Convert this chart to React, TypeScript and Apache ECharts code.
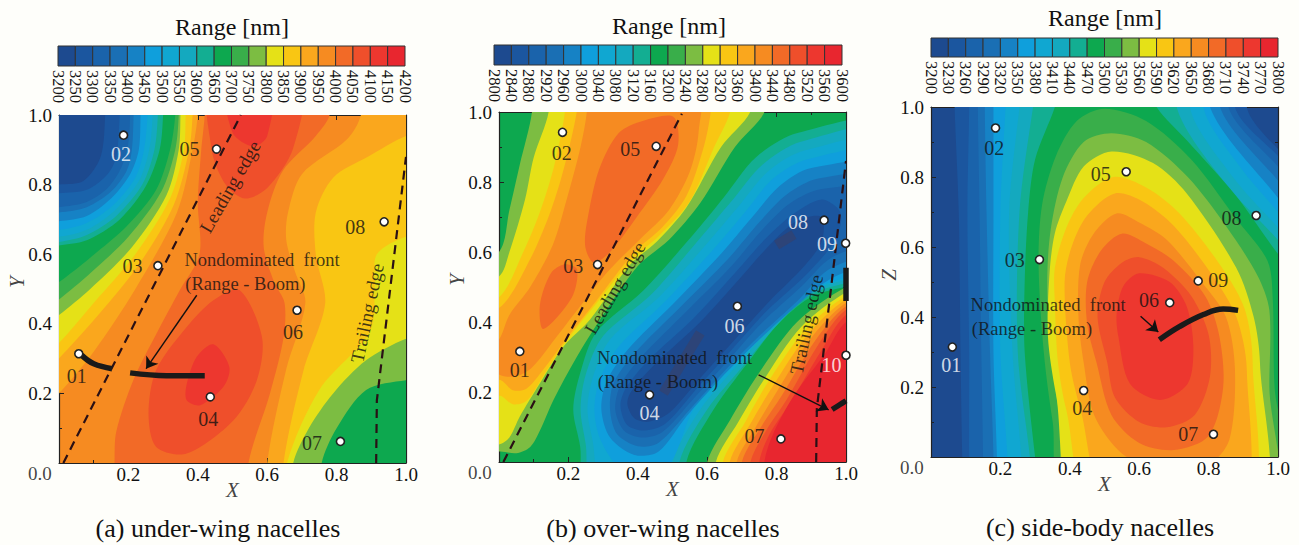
import React, { useEffect, useRef } from "react";
import * as echarts from "echarts";

type Pt = number[];
type Region = [number, Pt[]];
type Txt = [string, number, number, string, number?, number?];

const bandColors = ["#1d4a8f","#1b569f","#1a63ab","#1a6fb4","#1682c5","#0f9fdc","#10a7d1","#14a9bf","#13ae92","#0da84f","#39ae4a","#7cbd42","#e5e117","#f9c613","#faa71d","#f68b21","#f26a27","#ef4f2b","#ed372f","#e8262f"];

const ticksA = ["3200","3250","3300","3350","3400","3450","3500","3550","3600","3650","3700","3750","3800","3850","3900","3950","4000","4050","4100","4150","4200"];
const ticksB = ["2800","2840","2880","2920","2960","3000","3040","3080","3120","3160","3200","3240","3280","3320","3360","3400","3440","3480","3520","3560","3600"];
const ticksC = ["3200","3230","3260","3290","3320","3350","3380","3410","3440","3470","3500","3530","3560","3590","3620","3650","3680","3710","3740","3770","3800"];

const regionsA: Region[] = [
  [14,[[.6,-.15],[.6,0],[.655,.27],[.71,.46],[.68,.55],[.655,.64],[.66,.72],[.70,.83],[.83,.93],[.87,1],[.88,1.15],[1.15,1.15],[1.15,-.15]]],
  [13,[[.647,-.15],[.647,0],[.705,.267],[.767,.458],[.74,.60],[.74,.72],[.79,.82],[.89,.88],[1,.94],[1.15,.98],[1.15,-.15]]],
  [12,[[.65,-.15],[.657,0],[.75,.21],[.897,.38],[.91,.515],[.916,.60],[1,.65],[1.15,.68],[1.15,-.15]]],
  [11,[[.66,-.15],[.675,0],[.72,.1],[.79,.2],[.885,.295],[1,.357],[1.15,.40],[1.15,-.15]]],
  [9,[[.745,-.15],[.757,0],[.80,.10],[.885,.21],[1,.238],[1.15,.25],[1.15,-.15]]],
  [14,[[-.15,.05],[0,.2],[.1,.32],[.22,.50],[.34,.72],[.385,.9],[.40,1],[.41,1.15],[-.15,1.15]]],
  [13,[[-.15,.14],[0,.30],[.1,.41],[.23,.57],[.33,.74],[.375,.9],[.385,1],[.39,1.15],[-.15,1.15]]],
  [12,[[-.15,.2],[0,.345],[.1,.46],[.22,.60],[.32,.76],[.36,.9],[.365,1],[.37,1.15],[-.15,1.15]]],
  [11,[[-.15,.31],[0,.425],[.09,.50],[.21,.62],[.31,.77],[.345,.9],[.35,1],[.352,1.15],[-.15,1.15]]],
  [10,[[-.15,.36],[0,.47],[.09,.545],[.2,.65],[.295,.78],[.335,.9],[.345,1],[.347,1.15],[-.15,1.15]]],
  [9,[[-.15,.42],[0,.52],[.09,.59],[.195,.68],[.28,.785],[.32,.9],[.335,1],[.34,1.15],[-.15,1.15]]],
  [8,[[-.15,.60],[0,.625],[.08,.64],[.175,.70],[.25,.795],[.29,.9],[.30,1],[.305,1.15],[-.15,1.15]]],
  [7,[[-.15,.62],[0,.635],[.08,.655],[.165,.71],[.24,.80],[.275,.9],[.285,1],[.29,1.15],[-.15,1.15]]],
  [6,[[-.15,.64],[0,.65],[.08,.67],[.16,.725],[.23,.81],[.26,.9],[.27,1],[.275,1.15],[-.15,1.15]]],
  [5,[[-.15,.66],[0,.67],[.08,.69],[.155,.74],[.22,.82],[.245,.9],[.255,1],[.26,1.15],[-.15,1.15]]],
  [4,[[-.15,.685],[0,.695],[.08,.71],[.15,.76],[.205,.83],[.23,.9],[.235,1],[.24,1.15],[-.15,1.15]]],
  [3,[[-.15,.71],[0,.72],[.08,.735],[.15,.78],[.195,.84],[.21,.9],[.215,1],[.22,1.15],[-.15,1.15]]],
  [2,[[-.15,.72],[0,.735],[.08,.75],[.14,.79],[.18,.85],[.2,.92],[.205,1],[.21,1.15],[-.15,1.15]]],
  [1,[[-.15,.76],[0,.775],[.08,.785],[.14,.83],[.165,.88],[.175,1],[.18,1.15],[-.15,1.15]]],
  [0,[[-.15,.79],[0,.80],[.07,.81],[.12,.88],[.133,1],[.135,1.15],[-.15,1.15]]],
  [16,[[.155,-.15],[.16,0],[.165,.09],[.215,.24],[.28,.37],[.35,.50],[.405,.60],[.40,.75],[.41,.9],[.42,1],[.425,1.15],[.80,1.15],[.78,1],[.74,.94],[.645,.84],[.60,.72],[.59,.62],[.62,.52],[.65,.46],[.647,.36],[.608,.2],[.546,0],[.54,-.15]]],
  [17,[[.52,.497],[.585,.362],[.57,.237],[.503,.123],[.368,.027],[.28,.046],[.258,.142],[.28,.267],[.368,.391],[.445,.468]]],
  [17,[[.44,1.1],[.44,.9],[.48,.80],[.535,.76],[.60,.79],[.675,.905],[.695,1.1]]],
  [18,[[.483,1.1],[.50,.95],[.56,.91],[.60,.94],[.613,1.1]]],
  [18,[[.445,.341],[.491,.276],[.474,.219],[.407,.166],[.368,.18],[.368,.226],[.397,.305]]],
];

const regionsB: Region[] = [
  [11,[[.1,1.15],[.095,1],[.06,.85],[.03,.72],[0,.60],[-.15,.5],[-.15,.0],[.0,.03],[.05,.025],[.09,.043],[.118,.09],[.157,.177],[.224,.30],[.29,.405],[.40,.56],[.49,.635],[.58,.74],[.68,.90],[.765,1],[.8,1.15]]],
  [12,[[.15,1.15],[.143,1],[.10,.87],[.075,.75],[.03,.6],[0,.53],[-.15,.45],[-.15,.03],[0,.05],[.03,.07],[.06,.13],[.118,.225],[.186,.33],[.2625,.407],[.378,.564],[.455,.63],[.54,.727],[.64,.90],[.724,1],[.76,1.15]]],
  [13,[[.2,1.15],[.19,1],[.16,.85],[.12,.72],[.07,.6],[0,.47],[-.15,.4],[-.15,.17],[0,.19],[.04,.165],[.08,.175],[.13,.25],[.19,.34],[.27,.44],[.385,.58],[.46,.645],[.55,.745],[.62,.90],[.666,1],[.69,1.15]]],
  [14,[[.24,1.15],[.224,1],[.19,.85],[.15,.72],[.09,.58],[0,.44],[-.15,.4],[-.15,.2],[0,.235],[.04,.205],[.08,.21],[.14,.28],[.20,.36],[.28,.46],[.39,.60],[.47,.67],[.54,.76],[.59,.90],[.61,1],[.62,1.15]]],
  [15,[[.26,1.15],[.253,1],[.235,.9],[.195,.75],[.155,.62],[.09,.50],[.03,.42],[0,.35],[-.05,.31],[0,.25],[.05,.245],[.095,.27],[.16,.35],[.23,.44],[.31,.54],[.41,.64],[.49,.72],[.55,.83],[.575,.94],[.575,1.15]]],
  [16,[[.416,.975],[.345,.94],[.29,.84],[.26,.72],[.248,.62],[.272,.57],[.32,.60],[.397,.70],[.474,.81],[.516,.905],[.503,.986]]],
  [16,[[.128,.38],[.118,.45],[.15,.54],[.19,.565],[.225,.55],[.21,.47]]],
  [8,[[1.15,.97],[.86,.94],[.74,.87],[.647,.755],[.56,.65],[.416,.49],[.28,.37],[.234,.254],[.214,.149],[.234,.043],[.253,-.15],[.54,-.15],[.54,0],[.618,.149],[.714,.28],[.81,.40],[.907,.475],[1.15,.56]]],
  [7,[[1.15,.95],[.87,.915],[.76,.85],[.67,.745],[.58,.64],[.44,.48],[.30,.36],[.25,.25],[.235,.15],[.25,.05],[.275,-.15],[.52,-.15],[.52,0],[.60,.15],[.70,.27],[.80,.39],[.90,.48],[1.15,.575]]],
  [6,[[1.15,.92],[.88,.89],[.775,.83],[.69,.73],[.60,.625],[.46,.47],[.32,.35],[.27,.24],[.255,.15],[.27,.06],[.31,-.15],[.50,-.15],[.50,0],[.58,.15],[.68,.27],[.78,.38],[.89,.485],[1.15,.585]]],
  [5,[[1.15,.89],[.89,.865],[.79,.81],[.71,.715],[.62,.61],[.48,.46],[.345,.33],[.29,.235],[.275,.15],[.29,.07],[.34,-.01],[.41,-.04],[.49,-.01],[.56,.15],[.66,.27],[.76,.37],[.87,.48],[1.15,.6]]],
  [4,[[1.15,.85],[.90,.84],[.81,.79],[.73,.70],[.64,.595],[.50,.45],[.37,.32],[.31,.23],[.295,.15],[.32,.07],[.39,.02],[.46,.03],[.54,.13],[.64,.24],[.74,.34],[.85,.44],[.95,.52],[1.15,.62]]],
  [3,[[1.15,.82],[.92,.81],[.83,.765],[.75,.685],[.66,.58],[.52,.44],[.39,.31],[.33,.225],[.32,.15],[.34,.08],[.40,.045],[.46,.055],[.55,.15],[.65,.26],[.75,.36],[.86,.46],[.95,.55],[1.15,.64]]],
  [2,[[1.15,.78],[.93,.78],[.84,.74],[.76,.665],[.67,.56],[.54,.43],[.41,.30],[.35,.22],[.335,.15],[.36,.09],[.41,.07],[.47,.085],[.56,.18],[.66,.29],[.76,.40],[.87,.50],[.96,.585],[1.15,.66]]],
  [1,[[.98,.72],[.93,.75],[.85,.71],[.77,.64],[.68,.54],[.56,.41],[.43,.29],[.365,.21],[.35,.16],[.37,.105],[.42,.09],[.48,.11],[.57,.21],[.67,.32],[.77,.43],[.88,.53],[.96,.62],[.985,.68]]],
  [0,[[.93,.70],[.86,.69],[.78,.62],[.69,.52],[.58,.40],[.45,.28],[.38,.20],[.37,.165],[.39,.125],[.43,.115],[.49,.14],[.58,.24],[.68,.35],[.78,.46],[.88,.56],[.93,.63]]],
  [11,[[.59,-.15],[.60,0],[.666,.12],[.743,.245],[.859,.40],[1,.50],[1.15,.56],[1.15,-.15]]],
  [12,[[.62,-.15],[.625,0],[.69,.115],[.76,.23],[.87,.385],[1,.485],[1.15,.55],[1.15,-.15]]],
  [13,[[.64,-.15],[.645,0],[.71,.115],[.77,.22],[.88,.375],[1,.475],[1.15,.54],[1.15,-.15]]],
  [14,[[.66,-.15],[.665,0],[.725,.11],[.785,.21],[.89,.365],[1,.465],[1.15,.53],[1.15,-.15]]],
  [15,[[.68,-.15],[.685,0],[.74,.10],[.80,.20],[.90,.355],[1,.455],[1.15,.52],[1.15,-.15]]],
  [16,[[.695,-.15],[.70,0],[.755,.10],[.815,.19],[.91,.345],[1,.445],[1.15,.51],[1.15,-.15]]],
  [17,[[.72,-.15],[.725,0],[.77,.09],[.83,.18],[.92,.335],[1,.435],[1.15,.5],[1.15,-.15]]],
  [18,[[.745,-.15],[.75,0],[.78,.08],[.84,.17],[.93,.32],[1,.42],[1.15,.49],[1.15,-.15]]],
  [19,[[.76,-.15],[.765,0],[.79,.08],[.85,.19],[.94,.31],[1,.40],[1.15,.47],[1.15,-.15]]],
];

const regionsC: Region[] = [
  [1,[[.095,-.15],[.09,0],[.085,.3],[.08,.7],[.068,1],[.066,1.15],[.95,1.15],[.91,1],[1,.88],[1.15,.75],[1.15,-.15]]],
  [2,[[.115,-.15],[.11,0],[.11,.3],[.105,.7],[.11,1],[.11,1.15],[.92,1.15],[.876,1],[1,.86],[1.15,.71],[1.15,-.15]]],
  [3,[[.15,-.15],[.15,0],[.145,.3],[.14,.7],[.135,1],[.135,1.15],[.9,1.15],[.857,1],[1,.83],[1.15,.67],[1.15,-.15]]],
  [4,[[.18,-.15],[.18,0],[.17,.3],[.16,.7],[.155,1],[.155,1.15],[.88,1.15],[.833,1],[1,.79],[1.15,.62],[1.15,-.15]]],
  [5,[[.19,-.15],[.19,0],[.18,.3],[.18,.7],[.18,1],[.18,1.15],[.85,1.15],[.804,1],[1,.74],[1.15,.55],[1.15,-.15]]],
  [6,[[.22,-.15],[.22,0],[.20,.3],[.20,.7],[.215,1],[.225,1.15],[.83,1.15],[.785,1],[.89,.83],[1,.70],[1.15,.52],[1.15,-.15]]],
  [7,[[.265,-.15],[.26,0],[.235,.3],[.225,.7],[.255,1],[.275,1.15],[.8,1.15],[.746,1],[.87,.80],[1,.655],[1.15,.48],[1.15,-.15]]],
  [8,[[.295,-.15],[.285,0],[.25,.3],[.255,.7],[.294,1],[.32,1.15],[.75,1.15],[.708,1],[.85,.78],[1,.62],[1.15,.44],[1.15,-.15]]],
  [9,[[.32,-.15],[.30,0],[.27,.3],[.27,.5],[.28,.7],[.30,.85],[.357,1],[.40,1.15],[.58,1.15],[.65,1],[.737,.905],[.88,.745],[1,.58],[1.15,.40],[1.15,-.15]]],
  [10,[[.395,-.15],[.35,.105],[.325,.3],[.31,.55],[.32,.72],[.36,.86],[.42,.96],[.50,.995],[.62,.96],[.75,.85],[.88,.68],[.97,.56],[.985,.45],[.99,.2],[1.02,-.15]]],
  [11,[[.41,-.15],[.37,.12],[.345,.3],[.335,.5],[.345,.65],[.38,.80],[.44,.90],[.52,.925],[.62,.90],[.74,.80],[.85,.66],[.94,.52],[.975,.42],[.975,.2],[.98,-.15]]],
  [12,[[.43,-.15],[.36,.18],[.337,.344],[.342,.53],[.357,.64],[.39,.73],[.44,.83],[.52,.873],[.64,.84],[.737,.753],[.88,.54],[.93,.40],[.948,.27],[.945,-.15]]],
  [13,[[.47,-.15],[.39,.134],[.366,.27],[.357,.44],[.357,.54],[.39,.655],[.44,.74],[.525,.80],[.62,.77],[.717,.695],[.842,.536],[.905,.42],[.927,.27],[.91,-.15]]],
  [14,[[.52,-.15],[.43,.14],[.40,.27],[.385,.50],[.405,.60],[.45,.69],[.53,.753],[.61,.73],[.70,.66],[.81,.52],[.88,.40],[.91,.25],[.89,-.15]]],
  [15,[[.47,.12],[.44,.27],[.425,.40],[.43,.55],[.47,.64],[.535,.696],[.60,.67],[.68,.62],[.78,.50],[.85,.40],[.876,.25],[.86,.05],[.80,-.02],[.65,-.03],[.55,.01]]],
  [16,[[.52,.12],[.477,.27],[.45,.38],[.45,.50],[.49,.59],[.55,.638],[.62,.61],[.70,.56],[.79,.46],[.83,.35],[.842,.2],[.80,.06],[.70,.02],[.60,.04]]],
  [17,[[.53,.17],[.508,.27],[.48,.40],[.50,.50],[.55,.555],[.60,.571],[.67,.54],[.75,.46],[.80,.35],[.804,.23],[.76,.12],[.68,.085],[.60,.10]]],
  [18,[[.54,.344],[.573,.21],[.66,.163],[.74,.21],[.756,.316],[.737,.43],[.688,.50],[.60,.525],[.554,.488],[.535,.41]]],
];

const pointsA: Pt[] = [[.057,.314],[.186,.942],[.285,.567],[.436,.19],[.454,.902],[.686,.439],[.811,.062],[.937,.693]];
const pointsB: Pt[] = [[.06,.316],[.183,.942],[.284,.564],[.434,.192],[.453,.902],[.687,.445],[.8125,.066],[.937,.691],[.999,.625],[1,.305]];
const pointsC: Pt[] = [[.0615,.314],[.186,.94],[.3125,.564],[.44,.19],[.5625,.815],[.688,.441],[.814,.065],[.937,.69],[.77,.503]];

const INK = "#111";
const textA: Txt[] = [
  ["0.0",-.055,-.029,INK,19],["X",.5,-.078,INK,21],["Y",-.12,.52,INK,21,90],
  ["01",.051,.249,INK],["02",.179,.888,"#fff"],["03",.212,.566,INK],["04",.43,.127,INK],["05",.376,.901,INK],["06",.674,.377,INK],["07",.729,.058,INK],["08",.854,.679,INK],
  ["Nondominated  front",.585,.583,INK,18.5],["(Range - Boom)",.537,.514,INK,18.5],["Leading edge",.493,.794,INK,19,60],["Trailing edge",.888,.431,INK,19,78],
];
const textB: Txt[] = [
  ["0.0",-.055,-.029,INK,19],["X",.5,-.078,INK,21],["Y",-.12,.52,INK,21,90],
  ["01",.06,.264,INK],["02",.181,.882,INK],["03",.214,.559,INK],["04",.434,.141,"#fff"],["05",.378,.895,INK],["06",.679,.39,"#fff"],["07",.736,.074,INK],["08",.862,.686,"#fff"],["09",.945,.623,"#fff"],["10",.958,.278,"#fff"],
  ["Nondominated  front",.506,.297,INK,18.5],["(Range - Boom)",.458,.23,INK,18.5],["Leading edge",.334,.497,INK,19,60],["Trailing edge",.886,.393,INK,19,78],
];
const textC: Txt[] = [
  ["0.0",-.055,-.029,INK,19],["X",.5,-.078,INK,21],["Z",-.12,.52,INK,21,90],
  ["01",.0587,.263,"#fff"],["02",.182,.884,INK],["03",.241,.564,INK],["04",.436,.141,INK],["05",.489,.809,INK],["06",.628,.448,INK],["07",.741,.067,INK],["08",.866,.684,INK],["09",.828,.505,INK],
  ["Nondominated  front",.3375,.435,INK,18.5],["(Range - Boom)",.291,.366,INK,18.5],
];

const dashedA: Pt[][] = [[[.0125,0],[.524,1]],[[.914,0],[.916,.18],[1,.88]]];
const dashedB: Pt[][] = [[[.0125,0],[.527,.995]],[[.914,0],[.916,.153],[1,.86]]];
const dashedC: Pt[][] = [];
const frontsA: Pt[][] = [[[.065,.31],[.10,.285],[.153,.271]],[[.205,.259],[.31,.251],[.42,.251]]];
const frontsB: Pt[][] = [[[.96,.15],[.984,.165],[1,.175]],[[1,.555],[1,.46]]];
const frontsC: Pt[][] = [[[.658,.335],[.717,.373],[.785,.407],[.842,.423],[.885,.419]]];
const faintB: Pt[][] = [[[.474,.197],[.58,.369]],[[.80,.62],[.85,.65]]];
const faintNone: Pt[][] = [];
const arrowA: Pt[] = [.397,.482,.251,.271];
const arrowB: Pt[] = [.748,.249,.95,.149];
const arrowC: Pt[] = [.604,.402,.655,.357];

const titleText = "Range [nm]";
const captions = ["(a) under-wing nacelles","(b) over-wing nacelles","(c) side-body nacelles"];

const SERIF = "Liberation Serif";
const panels = [
  { grid:[59,115,347,348], bar:[58,46,347,20], base:15, regions:regionsA, points:pointsA, text:textA, dashed:dashedA, fronts:frontsA, faint:faintNone, arrow:arrowA, ticks:ticksA, title:[232,27], cap:[218,528] },
  { grid:[499,112,347,350], bar:[494,45,348,20], base:9, regions:regionsB, points:pointsB, text:textB, dashed:dashedB, fronts:frontsB, faint:faintB, arrow:arrowB, ticks:ticksB, title:[669,26], cap:[663,528] },
  { grid:[931,107,347,350], bar:[931,38,347,19], base:0, regions:regionsC, points:pointsC, text:textC, dashed:dashedC, fronts:frontsC, faint:faintNone, arrow:arrowC, ticks:ticksC, title:[1105,18], cap:[1100,527] },
];

function buildOption() {
  const grid: any[] = [], xAxis: any[] = [], yAxis: any[] = [], series: any[] = [], graphic: any[] = [];
  const fmt = (v: number) => (v === 0 ? "" : v.toFixed(1));
  const line = { show: true, onZero: false, lineStyle: { color: "#222", width: 1.2 } };
  panels.forEach((p, i) => {
    const g = grid.length;
    grid.push({ left:p.grid[0], top:p.grid[1], width:p.grid[2], height:p.grid[3], show:true, backgroundColor:bandColors[p.base], borderWidth:0 });
    const ax = (pos: string, labels: boolean, margin: number) => ({
      type:"value", min:0, max:1, interval:.2, gridIndex:g, position:pos, axisLine:line, splitLine:{show:false},
      axisTick:{inside:true, length:5, lineStyle:{color:"#222"}}, minorTick:{show:true, splitNumber:2, length:3, lineStyle:{color:"#222"}},
      axisLabel:{show:labels, formatter:fmt, color:"#111", fontFamily:SERIF, fontSize:19, margin},
    });
    const xi = xAxis.length, yi = yAxis.length;
    xAxis.push(ax("bottom", true, 2), ax("top", false, 2));
    yAxis.push(ax("left", true, 7), ax("right", false, 7));
    const on = { xAxisIndex:xi, yAxisIndex:yi };
    series.push({
      type:"custom", ...on, clip:true, z:1, silent:true,
      data:p.regions.map((_, k) => [k, 0]), encode:{x:0, y:1},
      renderItem:(_: any, api: any) => {
        const r = p.regions[api.value(0)];
        return { type:"polygon", shape:{ points:r[1].map((q) => api.coord(q)), smooth:.3 }, style:{ fill:bandColors[r[0]] } };
      },
    });
    p.faint.forEach((d) => series.push({ type:"line", ...on, data:d, symbol:"none", z:2, silent:true, lineStyle:{color:"#2d4478", width:10} }));
    p.dashed.forEach((d) => series.push({ type:"line", ...on, data:d, symbol:"none", clip:false, z:3, silent:true, lineStyle:{color:"#2a1015", width:2.2, type:[9,6]} }));
    p.fronts.forEach((d) => series.push({ type:"line", ...on, data:d, symbol:"none", smooth:.4, clip:false, z:4, silent:true, lineStyle:{color:"#1a1a1a", width:5.5} }));
    series.push({ type:"lines", ...on, coordinateSystem:"cartesian2d", z:4, silent:true, symbol:["none","arrow"], symbolSize:11,
      data:[{ coords:[[p.arrow[0],p.arrow[1]],[p.arrow[2],p.arrow[3]]] }], lineStyle:{color:"#111", width:1.4, opacity:1, curveness:0} });
    series.push({ type:"scatter", ...on, data:p.points, clip:false, z:5, silent:true, symbolSize:8, itemStyle:{color:"#fff", borderColor:"#222", borderWidth:1.6, opacity:1} });
    series.push({ type:"scatter", ...on, clip:false, z:6, silent:true, symbol:"circle", symbolSize:1, itemStyle:{color:"rgba(0,0,0,0)"},
      data:p.text.map((t) => ({ value:[t[1],t[2]], label:{ show:true, position:"inside", formatter:t[0], color:t[3], fontSize:t[4] ?? 20, rotate:t[5] ?? 0,
        fontFamily:SERIF, fontStyle:/^[XYZ]$/.test(t[0]) ? "italic" : "normal" } })) });

    const bg = grid.length;
    grid.push({ left:p.bar[0], top:p.bar[1], width:p.bar[2], height:p.bar[3] });
    const bx = xAxis.length, by = yAxis.length;
    xAxis.push({ type:"category", gridIndex:bg, data:p.ticks, boundaryGap:false, position:"bottom", axisLine:{show:false}, axisTick:{show:false}, splitLine:{show:false},
      axisLabel:{ interval:0, rotate:-90, color:"#111", fontFamily:SERIF, fontSize:16.5, margin:4 } });
    yAxis.push({ type:"value", gridIndex:bg, min:0, max:1, show:false });
    series.push({ type:"custom", xAxisIndex:bx, yAxisIndex:by, z:2, silent:true,
      data:bandColors.map((_, k) => [k, 0, k]), encode:{x:0, y:1}, dimensions:["x","y","k"],
      renderItem:(_: any, api: any) => {
        const k = api.value(2) as number;
        const a = api.coord([k, 1]), b = api.coord([k + 1, 0]);
        return { type:"rect", shape:{ x:a[0], y:a[1], width:b[0]-a[0], height:b[1]-a[1] }, style:{ fill:bandColors[k], stroke:"#333", lineWidth:1 } };
      },
    });
    graphic.push({ type:"text", x:p.title[0], y:p.title[1], style:{ text:titleText, font:`24px "${SERIF}"`, fill:"#111", textAlign:"center", textVerticalAlign:"middle" } });
    graphic.push({ type:"text", x:p.cap[0], y:p.cap[1], style:{ text:captions[i], font:`26px "${SERIF}"`, fill:"#111", textAlign:"center", textVerticalAlign:"middle" } });
  });
  return { animation:false, backgroundColor:"#fefefa", grid, xAxis, yAxis, series, graphic };
}

export default function App() {
  const ref = useRef<HTMLDivElement>(null);
  useEffect(() => {
    const chart = echarts.init(ref.current!, null, { renderer:"svg" });
    chart.setOption(buildOption());
    return () => chart.dispose();
  }, []);
  return <div ref={ref} style={{ position:"absolute", left:0, top:0, width:1299, height:545 }} />;
}
